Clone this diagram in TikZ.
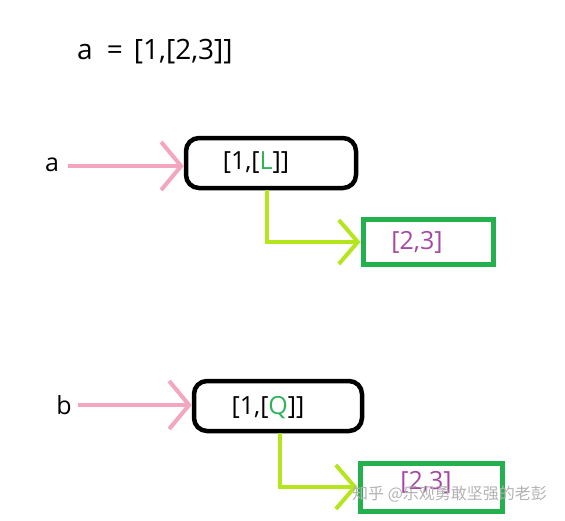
\documentclass[tikz,border=0pt]{standalone}
\usepackage{fontspec}
\setmainfont{Open Sans}
\newfontfamily\cjkwm{Noto Sans CJK SC}
\usetikzlibrary{arrows.meta}
\definecolor{pinkc}{HTML}{F4A6C0}
\definecolor{limec}{HTML}{B5E61D}
\definecolor{greenc}{HTML}{22B14C}
\definecolor{purplec}{HTML}{A349A4}
\definecolor{qgreen}{HTML}{2DB35A}
\tikzset{
  varbox/.style={draw=black, line width=4.5pt, rounded corners=13pt, minimum width=170pt, minimum height=50pt, inner sep=0pt},
  subbox/.style={draw=greenc, line width=5pt, minimum width=130pt, minimum height=45pt, inner sep=0pt},
  btxt/.style={font=\fontsize{25}{25}\selectfont, inner sep=0pt},
  ptxt/.style={font=\fontsize{25}{25}\selectfont, inner sep=0pt, text=purplec},
  lbl/.style={font=\fontsize{25}{25}\selectfont, inner sep=0pt},
  pinkarrow/.style={draw=pinkc, line width=4pt, -{Straight Barb[length=20pt, width=48pt, line width=4pt]}},
  limearrow/.style={draw=limec, line width=4pt, -{Straight Barb[length=19pt, width=44pt, line width=4pt]}},
}
\begin{document}
\begin{tikzpicture}[x=1pt,y=-1pt]
\useasboundingbox (0,0) rectangle (565,520);
\node[lbl, font=\fontsize{28}{28}\selectfont, anchor=west] (title) at (77,52) {a\hspace{0.5em}=\hspace{0.4em}[1,[2,3]]};
% first
\node[lbl] (la) at (52,165) {a};
\coordinate (pa) at (68,166);
\node[varbox] (box1) at (271,163) {};
\node[btxt] (t1) at (256,163) {[1,[\textcolor{qgreen}{L}]]};
\draw[pinkarrow] (pa) -- (pa -| box1.west);
\node[subbox] (g1) at (428,242) {};
\node[ptxt] (p1) at (417,242) {[2,3]};
\coordinate (s1) at (267,190);
\draw[limearrow] (s1) |- (g1.west);
% second
\node[lbl] (lb) at (64,405) {b};
\coordinate (pb) at (78,405);
\node[varbox, minimum width=168pt] (box2) at (278,406) {};
\node[btxt] (t2) at (268,408) {[1,[\textcolor{qgreen}{Q}]]};
\draw[pinkarrow] (pb) -- (pb -| box2.west);
\node[subbox, minimum width=142pt, minimum height=48pt] (g2) at (431,487) {};
\node[ptxt] (p2) at (426,482) {[2,3]};
\coordinate (s2) at (280,433);
\draw[limearrow] (s2) |- (g2.west);
% watermark
\node[font=\cjkwm\fontsize{16}{16}\selectfont, text=gray!60, anchor=west, inner sep=0pt] (wm) at (352,494) {知乎 @乐观勇敢坚强的老彭};
\end{tikzpicture}
\end{document}
